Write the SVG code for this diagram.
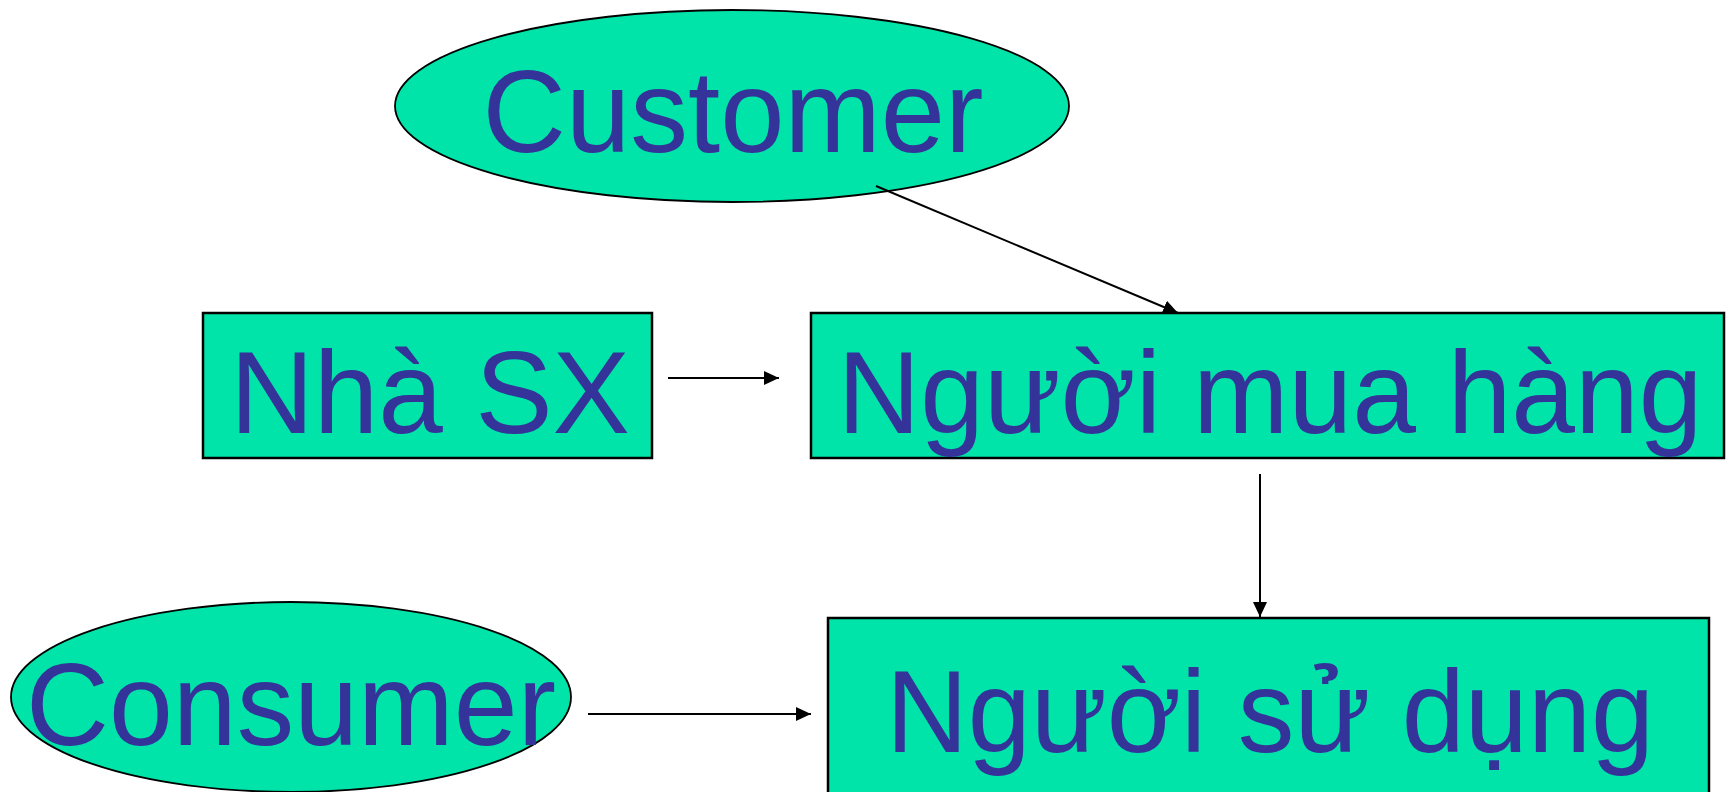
<svg xmlns="http://www.w3.org/2000/svg" width="1731" height="792" viewBox="0 0 1731 792">
  <style>
    .shape { fill: #00E4AA; stroke: #000000; }
    .rect { stroke-width: 2.5; }
    .oval { stroke-width: 1.8; }
    .label { font-family: "Liberation Sans", Arial, sans-serif; font-size: 116px; fill: #333399; text-anchor: middle; }
    .edge { stroke: #000000; stroke-width: 2; fill: none; marker-end: url(#arrow); }
  </style>
  <defs>
    <marker id="arrow" markerUnits="userSpaceOnUse" markerWidth="16" markerHeight="15" refX="15" refY="7" orient="auto">
      <path d="M0,0 L15,7 L0,14 Z" fill="#000000"/>
    </marker>
  </defs>

  <rect width="1731" height="792" fill="#FFFFFF"/>

  <g id="customer">
    <ellipse class="shape oval" cx="732" cy="106" rx="337" ry="96"/>
    <text class="label" x="733" y="152" textLength="501" lengthAdjust="spacingAndGlyphs">Customer</text>
  </g>

  <g id="nha-sx">
    <rect class="shape rect" x="203" y="313" width="449" height="145"/>
    <text class="label" x="430" y="433" textLength="400" lengthAdjust="spacingAndGlyphs">Nhà SX</text>
  </g>

  <g id="nguoi-mua-hang">
    <rect class="shape rect" x="811" y="313" width="913" height="145"/>
    <text class="label" x="1270" y="433" textLength="865" lengthAdjust="spacingAndGlyphs">Người mua hàng</text>
  </g>

  <g id="consumer">
    <ellipse class="shape oval" cx="291" cy="697" rx="280" ry="95"/>
    <text class="label" x="291" y="745" textLength="530" lengthAdjust="spacingAndGlyphs">Consumer</text>
  </g>

  <g id="nguoi-su-dung">
    <rect class="shape rect" x="828" y="618" width="881" height="190"/>
    <text class="label" x="1270" y="752" textLength="768" lengthAdjust="spacingAndGlyphs">Người sử dụng</text>
  </g>

  <g id="connectors">
    <line class="edge" x1="668" y1="378" x2="779" y2="378"/>
    <line class="edge" x1="876" y1="186" x2="1178" y2="313"/>
    <line class="edge" x1="1260" y1="474" x2="1260" y2="617"/>
    <line class="edge" x1="588" y1="714" x2="811" y2="714"/>
  </g>
</svg>
